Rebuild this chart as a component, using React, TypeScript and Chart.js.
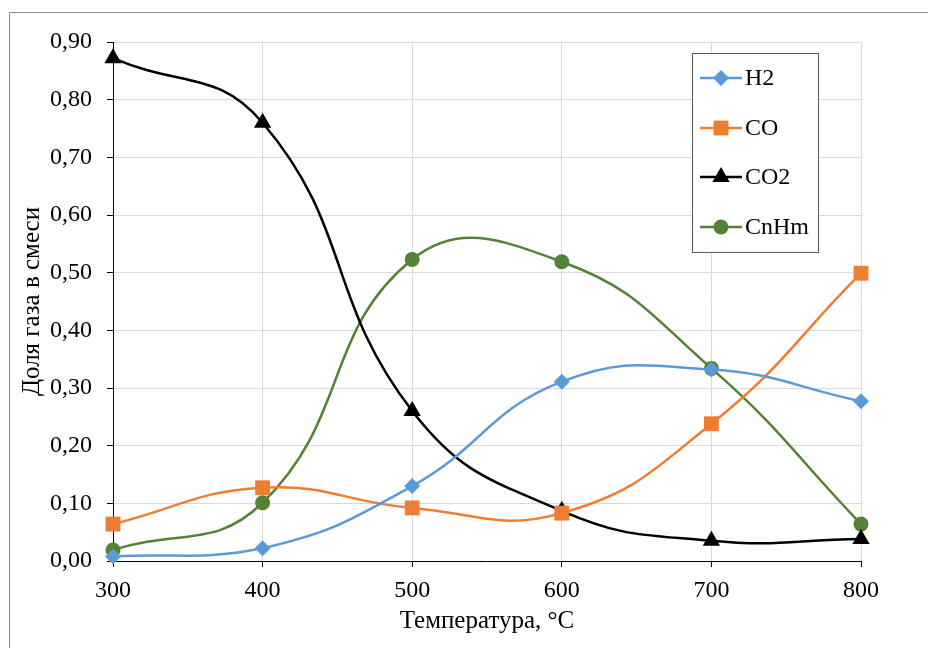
import React, { useEffect, useRef } from "react";
import { Chart, registerables } from "chart.js";

Chart.register(...registerables);

const temperatures = [300, 400, 500, 600, 700, 800];
const h2Values = [0.008, 0.022, 0.13, 0.311, 0.332, 0.277];
const coValues = [0.064, 0.127, 0.092, 0.083, 0.238, 0.499];
const co2Values = [0.872, 0.76, 0.26, 0.087, 0.035, 0.038];
const cnhmValues = [0.019, 0.101, 0.523, 0.519, 0.334, 0.064];
const seriesNames = ["H2", "CO", "CO2", "CnHm"];
const seriesColors = ["#5B9BD5", "#ED7D31", "#000000", "#548235"];
const seriesMarkers = ["rectRot", "rect", "triangle", "circle"];
const markerRadii = [8, 10.5, 10, 7.5];
const xTitle = "Температура, °C";
const yTitle = "Доля газа в смеси";

const FONT = "'Liberation Serif', 'Times New Roman', serif";

function drawMarker(ctx: CanvasRenderingContext2D, style: string, x: number, y: number, r: number, color: string) {
  ctx.save();
  ctx.fillStyle = color;
  ctx.beginPath();
  if (style === "rectRot") {
    ctx.moveTo(x, y - r);
    ctx.lineTo(x + r, y);
    ctx.lineTo(x, y + r);
    ctx.lineTo(x - r, y);
    ctx.closePath();
  } else if (style === "rect") {
    const s = r * Math.SQRT1_2;
    ctx.rect(x - s, y - s, 2 * s, 2 * s);
  } else if (style === "triangle") {
    const e = (3 * r) / Math.sqrt(3);
    const h = (e * Math.sqrt(3)) / 2;
    ctx.moveTo(x, y - (2 * h) / 3);
    ctx.lineTo(x + e / 2, y + h / 3);
    ctx.lineTo(x - e / 2, y + h / 3);
    ctx.closePath();
  } else {
    ctx.arc(x, y, r, 0, Math.PI * 2);
  }
  ctx.fill();
  ctx.restore();
}

const legendPlugin = {
  id: "insideLegend",
  afterDraw(chart: any) {
    const ctx = chart.ctx as CanvasRenderingContext2D;
    const left = 692, top = 53, right = 818, bottom = 252;
    ctx.save();
    ctx.fillStyle = "#ffffff";
    ctx.fillRect(left, top, right - left, bottom - top);
    ctx.strokeStyle = "#595959";
    ctx.lineWidth = 1;
    ctx.strokeRect(left + 0.5, top + 0.5, right - left, bottom - top);
    const ys = [78, 128, 177, 227];
    seriesNames.forEach((name, i) => {
      const y = ys[i];
      ctx.strokeStyle = seriesColors[i];
      ctx.lineWidth = 2.5;
      ctx.beginPath();
      ctx.moveTo(700, y);
      ctx.lineTo(742, y);
      ctx.stroke();
      drawMarker(ctx, seriesMarkers[i], 721, y, markerRadii[i], seriesColors[i]);
      ctx.fillStyle = "#000000";
      ctx.font = `24px ${FONT}`;
      ctx.textBaseline = "middle";
      ctx.textAlign = "left";
      ctx.fillText(name, 745, y + 1);
    });
    ctx.restore();
  },
};

export default function App() {
  const canvasRef = useRef<HTMLCanvasElement | null>(null);

  useEffect(() => {
    if (!canvasRef.current) return;
    const allValues = [h2Values, coValues, co2Values, cnhmValues];
    const chart = new Chart(canvasRef.current, {
      type: "line",
      data: {
        datasets: seriesNames.map((name, i) => ({
          label: name,
          data: temperatures.map((t, j) => ({ x: t, y: allValues[i][j] })),
          borderColor: seriesColors[i],
          backgroundColor: seriesColors[i],
          borderWidth: 2.5,
          pointStyle: seriesMarkers[i] as any,
          pointRadius: markerRadii[i],
          pointBorderWidth: 0,
          tension: 0.45,
          clip: false as any,
          fill: false,
        })),
      },
      options: {
        animation: false,
        responsive: false,
        layout: { padding: { left: 0, top: 42, right: 67, bottom: 0 } },
        plugins: {
          legend: { display: false },
          tooltip: { enabled: false },
        },
        scales: {
          x: {
            type: "linear",
            min: 300,
            max: 800,
            afterFit: (scale: any) => {
              scale.height = 87;
            },
            ticks: {
              stepSize: 100,
              color: "#000",
              padding: 9,
              font: { family: FONT, size: 24 },
            },
            grid: { color: "#d9d9d9", tickColor: "#000", tickLength: 6, lineWidth: 1 },
            border: { color: "#000", width: 1 },
            title: {
              display: true,
              text: xTitle,
              color: "#000",
              font: { family: FONT, size: 25 },
              padding: 12,
            },
          },
          y: {
            min: 0,
            max: 0.9,
            afterFit: (scale: any) => {
              scale.width = 113;
            },
            ticks: {
              stepSize: 0.1,
              color: "#000",
              padding: 15,
              font: { family: FONT, size: 24 },
              callback: (v: any) => Number(v).toFixed(2).replace(".", ","),
            },
            grid: { color: "#d9d9d9", tickColor: "#000", tickLength: 6, lineWidth: 1 },
            border: { color: "#000", width: 1 },
            title: {
              display: true,
              text: yTitle,
              color: "#000",
              font: { family: FONT, size: 25 },
              padding: 17,
            },
          },
        },
      },
      plugins: [legendPlugin],
    });
    return () => chart.destroy();
  }, []);

  return (
    <div style={{ position: "fixed", left: 0, top: 0, width: 928, height: 648, background: "#fff" }}>
      <div
        style={{
          position: "absolute",
          left: 9,
          top: 12,
          width: 940,
          height: 660,
          borderLeft: "1px solid #8c8c8c",
          borderTop: "1px solid #8c8c8c",
        }}
      />
      <canvas
        ref={canvasRef}
        width={928}
        height={648}
        style={{ position: "absolute", left: 0, top: 0, width: 928, height: 648 }}
      />
    </div>
  );
}
